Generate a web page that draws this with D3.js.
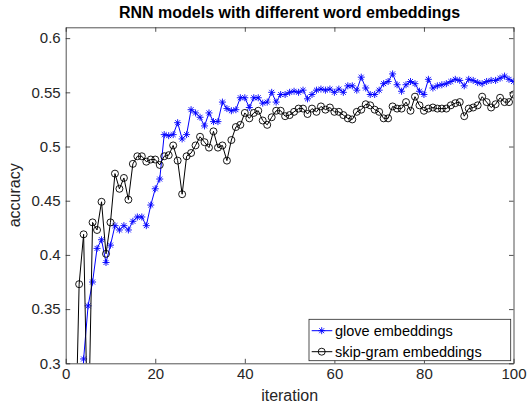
<!DOCTYPE html>
<html>
<head>
<meta charset="utf-8">
<script src="https://cdn.jsdelivr.net/npm/d3@7"></script>
<style>
  body { margin: 0; background: #fff; }
  #chartbox { width: 531px; height: 408px; }
  text { font-family: "Liberation Sans", Arial, Helvetica, sans-serif; }
</style>
</head>
<body>
<div id="chartbox"></div>
<script>
// accuracy per iteration (1..100)
var iterations = d3.range(1, 101);

var glove = [
  0.10, 0.15, 0.20, 0.304, 0.353, 0.375, 0.406, 0.414, 0.393, 0.409,
  0.427, 0.423, 0.427, 0.423, 0.431, 0.435, 0.435, 0.427, 0.446, 0.461,
  0.470, 0.511, 0.510, 0.511, 0.522, 0.507, 0.511, 0.534, 0.531, 0.527,
  0.519, 0.531, 0.523, 0.523, 0.541, 0.535, 0.533, 0.534, 0.545, 0.545,
  0.536, 0.545, 0.545, 0.540, 0.541, 0.550, 0.541, 0.548, 0.548, 0.550,
  0.551, 0.550, 0.552, 0.544, 0.548, 0.552, 0.553, 0.552, 0.553, 0.550,
  0.553, 0.550, 0.556, 0.556, 0.552, 0.564, 0.554, 0.548, 0.548, 0.552,
  0.558, 0.560, 0.567, 0.557, 0.551, 0.557, 0.560, 0.558, 0.551, 0.548,
  0.562, 0.554, 0.556, 0.557, 0.558, 0.560, 0.562, 0.561, 0.556, 0.562,
  0.561, 0.559, 0.558, 0.560, 0.561, 0.561, 0.563, 0.565, 0.562, 0.560
];

var skipgram = [
  0.15, 0.19, 0.373, 0.419, 0.22, 0.430, 0.423, 0.449, 0.401, 0.430,
  0.475, 0.461, 0.471, 0.451, 0.484, 0.491, 0.491, 0.486, 0.488, 0.488,
  0.483, 0.491, 0.492, 0.501, 0.487, 0.456, 0.491, 0.494, 0.501, 0.509,
  0.504, 0.499, 0.514, 0.499, 0.501, 0.487, 0.506, 0.518, 0.520, 0.531,
  0.526, 0.531, 0.533, 0.524, 0.520, 0.527, 0.533, 0.533, 0.528, 0.529,
  0.532, 0.535, 0.535, 0.530, 0.535, 0.532, 0.537, 0.534, 0.536, 0.532,
  0.532, 0.529, 0.526, 0.525, 0.532, 0.534, 0.539, 0.538, 0.534, 0.532,
  0.526, 0.526, 0.537, 0.535, 0.535, 0.541, 0.533, 0.546, 0.538, 0.533,
  0.535, 0.536, 0.535, 0.535, 0.535, 0.538, 0.540, 0.541, 0.528, 0.535,
  0.536, 0.538, 0.546, 0.541, 0.536, 0.539, 0.545, 0.541, 0.541, 0.548
];

var seriesNames = ["glove embeddings", "skip-gram embeddings"];
var xTicks = [0, 20, 40, 60, 80, 100];
var yTicks = [0.3, 0.35, 0.4, 0.45, 0.5, 0.55, 0.6];
var yTickLabels = ["0.3", "0.35", "0.4", "0.45", "0.5", "0.55", "0.6"];

var ink = "#262626";

var chart = d3.select('#chartbox');
var margin = { top: 27.3, right: 17.5, bottom: 44.7, left: 65.7 },
    width = 531 - margin.left - margin.right,
    height = 408 - margin.top - margin.bottom;

var svg = chart.append('svg')
    .attr('width', 531)
    .attr('height', 408)
  .append('g')
    .attr('transform', 'translate(' + [margin.left, margin.top] + ')');

var x = d3.scaleLinear().range([0, width]).domain([0, 100]);
var y = d3.scaleLinear().range([height, 0]).domain([0.3, 0.61]);

svg.append('clipPath').attr('id', 'plotclip')
  .append('rect').attr('width', width).attr('height', height);

// axes, ticks pointing inward on all four sides
function styleAxis(g) {
  g.selectAll('path, line').attr('stroke', ink).attr('stroke-width', 0.8);
  g.selectAll('text').attr('fill', ink).style('font-size', '15px');
}

svg.append('g')
    .attr('transform', 'translate(0,' + height + ')')
    .call(d3.axisBottom(x).tickValues(xTicks).tickSizeInner(-4.5).tickSizeOuter(0).tickPadding(5))
    .call(styleAxis);
svg.append('g')
    .call(d3.axisTop(x).tickValues(xTicks).tickSizeInner(-4.5).tickSizeOuter(0).tickFormat(''))
    .call(styleAxis);
svg.append('g')
    .call(d3.axisLeft(y).tickValues(yTicks).tickSizeInner(-4.5).tickSizeOuter(0).tickPadding(5)
      .tickFormat(function (d, i) { return yTickLabels[i]; }))
    .call(styleAxis);
svg.append('g')
    .attr('transform', 'translate(' + width + ',0)')
    .call(d3.axisRight(y).tickValues(yTicks).tickSizeInner(-4.5).tickSizeOuter(0).tickFormat(''))
    .call(styleAxis);

// title and labels
svg.append('text')
    .attr('x', width / 2).attr('y', -9.5)
    .attr('text-anchor', 'middle')
    .style('font-size', '16px').style('font-weight', 'bold')
    .attr('fill', '#000')
    .text('RNN models with different word embeddings');
svg.append('text')
    .attr('x', width / 2).attr('y', height + 38)
    .attr('text-anchor', 'middle')
    .style('font-size', '16px')
    .attr('fill', ink)
    .text('iteration');
svg.append('text')
    .attr('transform', 'translate(' + (-46) + ',' + (height / 2) + ') rotate(-90)')
    .attr('text-anchor', 'middle')
    .style('font-size', '16px')
    .attr('fill', ink)
    .text('accuracy');

// markers
var asterisk = function (r) {
  var d = r * 0.7071;
  return 'M' + (-r) + ',0L' + r + ',0M0,' + (-r) + 'L0,' + r +
         'M' + (-d) + ',' + (-d) + 'L' + d + ',' + d +
         'M' + (-d) + ',' + d + 'L' + d + ',' + (-d);
};

var series = [
  { name: seriesNames[0], values: glove, color: '#0000ff', marker: 'star' },
  { name: seriesNames[1], values: skipgram, color: '#000000', marker: 'circle' }
];

var line = d3.line()
    .x(function (d, i) { return x(iterations[i]); })
    .y(function (d) { return y(d); });

var plot = svg.append('g').attr('clip-path', 'url(#plotclip)');

series.forEach(function (s) {
  var g = plot.append('g');
  g.append('path')
      .datum(s.values)
      .attr('d', line)
      .attr('fill', 'none')
      .attr('stroke', s.color)
      .attr('stroke-width', 1);
  if (s.marker === 'star') {
    g.selectAll('path.mk')
        .data(s.values)
        .enter().append('path')
        .attr('class', 'mk')
        .attr('transform', function (d, i) { return 'translate(' + [x(iterations[i]), y(d)] + ')'; })
        .attr('d', asterisk(3.5))
        .attr('stroke', s.color)
        .attr('stroke-width', 0.9)
        .attr('fill', 'none');
  } else {
    g.selectAll('circle')
        .data(s.values)
        .enter().append('circle')
        .attr('cx', function (d, i) { return x(iterations[i]); })
        .attr('cy', function (d) { return y(d); })
        .attr('r', 3.5)
        .attr('stroke', s.color)
        .attr('stroke-width', 0.9)
        .attr('fill', 'none');
  }
});

// legend, lower right
var legend = svg.append('g')
    .attr('transform', 'translate(' + (309 - margin.left) + ',' + (319.3 - margin.top) + ')');
legend.append('rect')
    .attr('width', 201.7).attr('height', 41.4)
    .attr('fill', '#fff')
    .attr('stroke', ink)
    .attr('stroke-width', 0.8);

series.forEach(function (s, i) {
  var row = legend.append('g').attr('transform', 'translate(0,' + (11.4 + i * 21) + ')');
  row.append('line')
      .attr('x1', 2.7).attr('x2', 23.3)
      .attr('stroke', s.color).attr('stroke-width', 1);
  if (s.marker === 'star') {
    row.append('path')
        .attr('transform', 'translate(12.7,0)')
        .attr('d', asterisk(3.5))
        .attr('stroke', s.color).attr('stroke-width', 0.9).attr('fill', 'none');
  } else {
    row.append('circle')
        .attr('cx', 12.7).attr('r', 3.5)
        .attr('stroke', s.color).attr('stroke-width', 0.9).attr('fill', 'none');
  }
  row.append('text')
      .attr('x', 26)
      .attr('dy', '0.35em')
      .style('font-size', '14.5px')
      .attr('fill', '#000')
      .text(s.name);
});
</script>
</body>
</html>
